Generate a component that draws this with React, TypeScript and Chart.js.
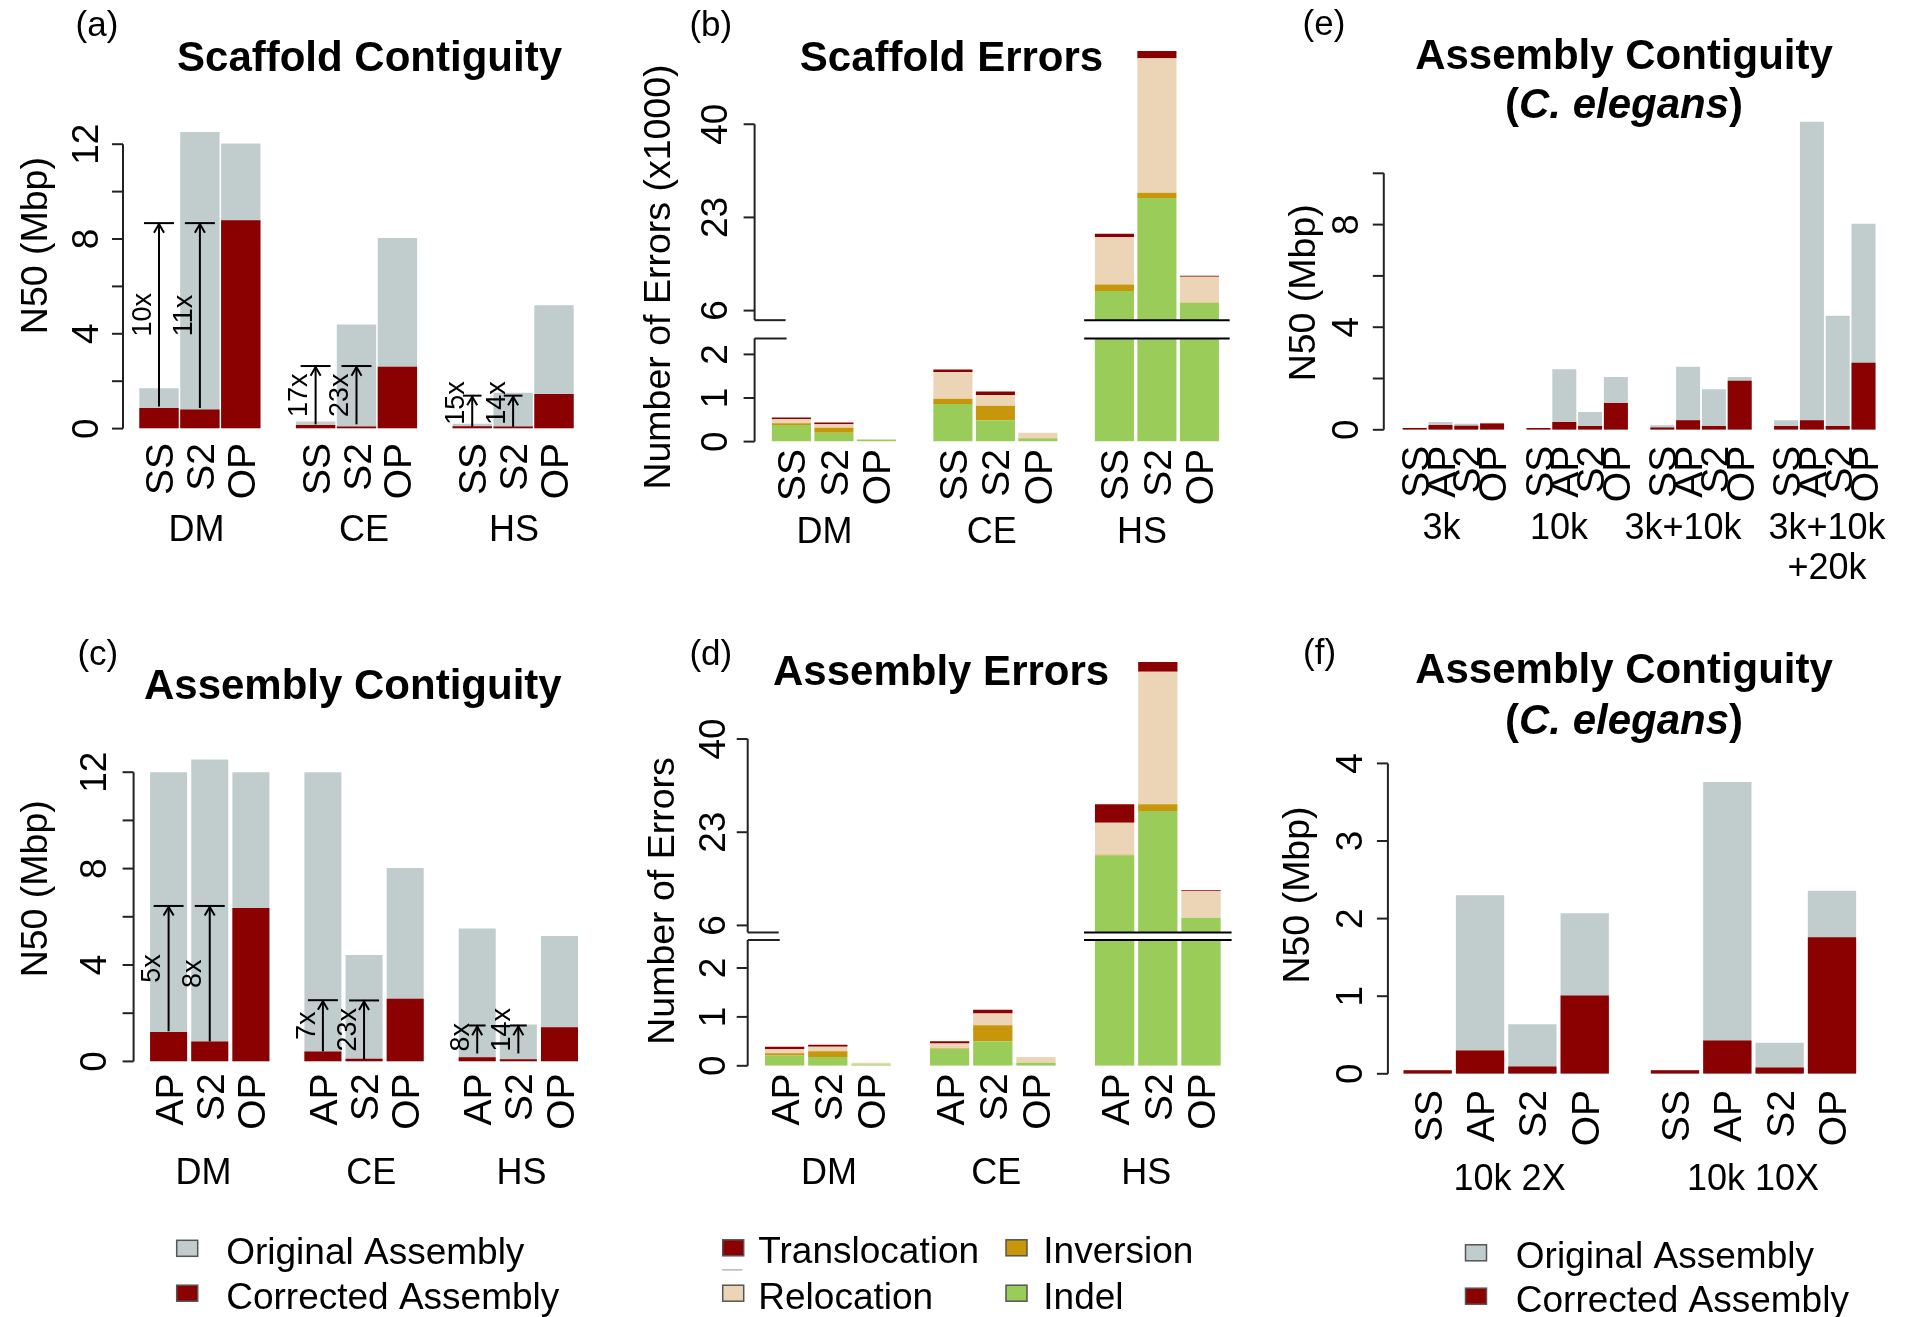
import { useEffect, useRef } from "react";
import { Chart, registerables, LinearScale } from "chart.js";

Chart.register(...registerables);

const FONT = '"Liberation Sans", Arial, Helvetica, sans-serif';

// ---------- text sizes ----------
const TICK_SIZE = 37;
const CAT_SIZE = 39;
const GROUP_SIZE = 36;
const AXIS_TITLE_SIZE = 37.5;
const FOLD_SIZE = 27;
const LEGEND_SIZE = 37;

// ---------- colours ----------
const GRAY = "#C1CDCD";
const DARKRED = "#8B0000";
const INDEL_C = "#9ACC5A";
const INVERSION_C = "#C8960A";
const RELOCATION_C = "#ECD5B7";
const TRANSLOCATION_C = "#8B0000";

// ---------- categories ----------
const SPECIES = ["DM", "CE", "HS"];
const SCAFFOLD_TOOLS = ["SS", "S2", "OP"];
const ASSEMBLY_TOOLS = ["AP", "S2", "OP"];
const ELEGANS_TOOLS = ["SS", "AP", "S2", "OP"];
const E_LIBRARIES = ["3k", "10k", "3k+10k", "3k+10k\n+20k"];
const F_COVERAGES = ["10k 2X", "10k 10X"];

const SERIES_ORIGINAL = "Original Assembly";
const SERIES_CORRECTED = "Corrected Assembly";
const ERR_INDEL = "Indel";
const ERR_INVERSION = "Inversion";
const ERR_RELOCATION = "Relocation";
const ERR_TRANSLOCATION = "Translocation";

// ---------- (a) Scaffold contiguity, N50 Mbp ----------
const A_ORIGINAL = [1.7, 12.51, 12.03, 0.3, 4.39, 8.04, 0.2, 1.51, 5.2];
const A_CORRECTED = [0.87, 0.81, 8.79, 0.15, 0.09, 2.61, 0.1, 0.09, 1.46];
const A_FOLD_BAR = [0, 1, 3, 4, 6, 7];
const A_FOLD_FROM = [0.93, 0.87, 0.18, 0.18, 0.08, 0.08];
const A_FOLD_TO = [8.67, 8.67, 2.64, 2.64, 1.39, 1.39];
const A_FOLD_LABEL = ["10x", "11x", "17x", "23x", "15x", "14x"];
const A_Y_TICKS = [0, 2, 4, 6, 8, 10, 12];
const A_Y_LABELS = [0, 4, 8, 12];

// ---------- (b) Scaffold errors (x1000) ----------
const B_INDEL = [0.38, 0.205, 0.045, 0.86, 0.49, 0.074, 9.58, 26.52, 7.37];
const B_INVERSION = [0.04, 0.115, 0, 0.123, 0.33, 0, 1.18, 0.98, 0.05];
const B_RELOCATION = [0.09, 0.08, 0.012, 0.615, 0.246, 0.13, 8.6, 24.56, 4.77];
const B_TRANSLOCATION = [0.04, 0.04, 0, 0.057, 0.082, 0, 0.65, 1.3, 0.15];
const B_Y_TICKS = [0, 1, 2, 6, 23, 40];

// ---------- (c) Assembly contiguity ----------
const C_ORIGINAL = [12.0, 12.53, 12.0, 12.0, 4.41, 8.02, 5.51, 1.53, 5.2];
const C_CORRECTED = [1.22, 0.83, 6.36, 0.41, 0.11, 2.6, 0.17, 0.09, 1.42];
const C_FOLD_BAR = [0, 1, 3, 4, 6, 7];
const C_FOLD_FROM = [1.25, 0.83, 0.42, 0.09, 0.33, 0.33];
const C_FOLD_TO = [6.45, 6.45, 2.54, 2.53, 1.49, 1.49];
const C_FOLD_LABEL = ["5x", "8x", "7x", "23x", "8x", "14x"];

// ---------- (d) Assembly errors ----------
const D_INDEL = [0.21, 0.18, 0.027, 0.345, 0.5, 0.064, 18.74, 26.86, 7.38];
const D_INVERSION = [0.045, 0.118, 0, 0.01, 0.327, 0, 0.15, 1.22, 0];
const D_RELOCATION = [0.09, 0.09, 0.036, 0.1, 0.245, 0.118, 5.86, 24.19, 4.87];
const D_TRANSLOCATION = [0.045, 0.045, 0, 0.045, 0.073, 0, 3.33, 1.78, 0.16];
const D_Y_TICKS = [0, 1, 2, 6, 23, 40];

// ---------- (e) C. elegans libraries ----------
const E_ORIGINAL = [0.08, 0.3, 0.24, 0.27, 0.07, 2.36, 0.69, 2.06, 0.18, 2.46, 1.58, 2.06, 0.37, 12.01, 4.45, 8.03];
const E_CORRECTED = [0.07, 0.19, 0.16, 0.25, 0.07, 0.3, 0.15, 1.04, 0.09, 0.37, 0.15, 1.91, 0.15, 0.37, 0.15, 2.61];
const E_Y_TICKS = [0, 2, 4, 6, 8, 10];
const E_Y_LABELS = [0, 4, 8];

// ---------- (f) C. elegans coverage ----------
const F_ORIGINAL = [0.05, 2.3, 0.64, 2.07, 0.05, 3.76, 0.4, 2.36];
const F_CORRECTED = [0.047, 0.3, 0.094, 1.01, 0.047, 0.43, 0.082, 1.76];
const F_Y_TICKS = [0, 1, 2, 3, 4];

// ---------- broken-axis scales ----------
type Brk = { lowTop: number; upV: number; anchorV: number; anchorD: number; slope: number };
const B_BRK: Brk = { lowTop: 2.367, upV: 4.25, anchorV: 6, anchorD: 3.005, slope: 0.1257 };
const D_BRK: Brk = { lowTop: 2.573, upV: 4.71, anchorV: 6, anchorD: 2.871, slope: 0.1121 };

function makeBrokenScale(id: string, b: Brk) {
  const upD = b.anchorD + (b.upV - b.anchorV) * b.slope;
  const fwd = (v: number) =>
    v <= b.lowTop
      ? v
      : v >= b.upV
      ? b.anchorD + (v - b.anchorV) * b.slope
      : b.lowTop + ((v - b.lowTop) * (upD - b.lowTop)) / (b.upV - b.lowTop);
  const inv = (d: number) =>
    d <= b.lowTop
      ? d
      : d >= upD
      ? b.anchorV + (d - b.anchorD) / b.slope
      : b.lowTop + ((d - b.lowTop) * (b.upV - b.lowTop)) / (upD - b.lowTop);
  class S extends (LinearScale as any) {
    static id = id;
    static defaults = (LinearScale as any).defaults;
    getPixelForValue(v: number) {
      return super.getPixelForValue(fwd(v));
    }
    getValueForPixel(p: number) {
      return inv(super.getValueForPixel(p));
    }
  }
  Chart.register(S as any);
}
makeBrokenScale("brokenB", B_BRK);
makeBrokenScale("brokenD", D_BRK);

// ---------- helpers ----------
function label(
  ctx: CanvasRenderingContext2D,
  s: string,
  x: number,
  y: number,
  size: number,
  align: CanvasTextAlign = "center",
  rot = false,
  style = "normal"
) {
  ctx.save();
  ctx.font = `${style} ${size}px ${FONT}`;
  ctx.fillStyle = "#000";
  ctx.textAlign = align;
  ctx.textBaseline = "alphabetic";
  ctx.translate(x, y);
  if (rot) ctx.rotate(-Math.PI / 2);
  ctx.fillText(s, 0, 0.36 * size);
  ctx.restore();
}

function seg(ctx: CanvasRenderingContext2D, x1: number, y1: number, x2: number, y2: number) {
  ctx.beginPath();
  ctx.moveTo(x1, y1);
  ctx.lineTo(x2, y2);
  ctx.stroke();
}

function drawFold(ctx: CanvasRenderingContext2D, x: number, yFrom: number, yTo: number, text: string) {
  const len = yFrom - yTo;
  const cap = Math.min(15, 0.3 * len);
  ctx.save();
  ctx.strokeStyle = "#000";
  ctx.lineWidth = 2;
  seg(ctx, x, yFrom, x, yTo);
  seg(ctx, x - cap, yTo, x + cap, yTo);
  const hl = 10;
  const ang = Math.PI / 6;
  ctx.beginPath();
  ctx.moveTo(x - hl * Math.sin(ang), yTo + 1 + hl * Math.cos(ang));
  ctx.lineTo(x, yTo + 1);
  ctx.lineTo(x + hl * Math.sin(ang), yTo + 1 + hl * Math.cos(ang));
  ctx.stroke();
  ctx.font = `${FOLD_SIZE}px ${FONT}`;
  const half = ctx.measureText(text).width / 2;
  const yc = Math.min((yFrom + yTo) / 2, yFrom - half - 2);
  ctx.restore();
  label(ctx, text, x - 18, yc, FOLD_SIZE, "center", true);
}

type TitleSeg = [string, string];
type LegendItem = { color: string; text: string; sx: number; tx: number; y: number };

type Panel = {
  id: string;
  ox: number;
  oy: number;
  w: number;
  h: number;
  letter: string;
  letterX: number;
  letterY: number;
  title: TitleSeg[][];
  titleX: number;
  titleY: number[];
  groups: string[];
  tools: string[];
  gp: number;
  firstPx: number;
  lastPx: number;
  barPct: number;
  y0: number;
  ppu: number;
  ymax: number;
  yType: string;
  stacked: boolean;
  brk?: Brk;
  axisX: number;
  ticks: number[];
  tickLabels: number[];
  tickLabelX: number;
  yTitle: string;
  yTitleX: number;
  yTitleY: number;
  catTop: number;
  groupLabelX: number[];
  groupLabelY: number;
  series: { label: string; color: string; values: number[]; order?: number }[];
  folds?: { bar: number[]; from: number[]; to: number[]; text: string[] };
  legend?: LegendItem[];
  legendLine?: number[];
};

function positions(p: Panel) {
  const out: number[] = [];
  for (let g = 0; g < p.groups.length; g++) for (let i = 0; i < p.tools.length; i++) out.push(g * p.gp + i);
  return out;
}

function makeDecor(p: Panel) {
  return {
    id: "decor_" + p.id,
    afterDatasetsDraw(chart: any) {
      const ctx: CanvasRenderingContext2D = chart.ctx;
      const xs = chart.scales.x;
      const ys = chart.scales.y;
      const X = (v: number) => xs.getPixelForValue(v) + p.ox;
      const Y = (v: number) => ys.getPixelForValue(v) + p.oy;
      const pos = positions(p);
      const pitch = X(1) - X(0);
      ctx.save();
      ctx.translate(-p.ox, -p.oy);

      // broken band over the tall group
      if (p.brk) {
        const lt = Y(p.brk.lowTop);
        const ub = Y(p.brk.upV);
        const n = p.tools.length;
        const first = pos[pos.length - n];
        const last = pos[pos.length - 1];
        const gx0 = X(first) - pitch / 2 - 9;
        const gx1 = X(last) + pitch / 2 + 9;
        ctx.fillStyle = "#fff";
        ctx.fillRect(gx0, ub, gx1 - gx0, lt - ub);
        ctx.strokeStyle = "#000";
        ctx.lineWidth = 2;
        seg(ctx, gx0, ub, gx1, ub);
        seg(ctx, gx0, lt, gx1, lt);
      }

      // y axis
      ctx.strokeStyle = "#222";
      ctx.lineWidth = 2;
      if (p.brk) {
        const lt = Y(p.brk.lowTop);
        const ub = Y(p.brk.upV);
        seg(ctx, p.axisX, Y(0), p.axisX, lt);
        seg(ctx, p.axisX, lt, p.axisX + 32, lt);
        seg(ctx, p.axisX, ub, p.axisX, Y(p.ticks[p.ticks.length - 1]));
        seg(ctx, p.axisX, ub, p.axisX + 31, ub);
      } else {
        seg(ctx, p.axisX, Y(p.ticks[0]), p.axisX, Y(p.ticks[p.ticks.length - 1]));
      }
      for (const t of p.ticks) seg(ctx, p.axisX - 11, Y(t), p.axisX, Y(t));
      for (const t of p.tickLabels) label(ctx, String(t), p.tickLabelX, Y(t), TICK_SIZE, "center", true);
      label(ctx, p.yTitle, p.yTitleX, p.yTitleY, AXIS_TITLE_SIZE, "center", true);

      // category labels
      pos.forEach((v, k) => {
        label(ctx, p.tools[k % p.tools.length], X(v), p.catTop, CAT_SIZE, "right", true);
      });
      p.groups.forEach((g, k) => {
        g.split("\n").forEach((line, j) => label(ctx, line, p.groupLabelX[k], p.groupLabelY + j * 40, GROUP_SIZE));
      });

      // fold-change annotations
      if (p.folds) {
        const f = p.folds;
        f.bar.forEach((b, k) => drawFold(ctx, X(pos[b]), Y(f.from[k]), Y(f.to[k]), f.text[k]));
      }

      // panel letter
      label(ctx, p.letter, p.letterX, p.letterY, 35);

      // title
      p.title.forEach((line, li) => {
        let total = 0;
        const widths = line.map(([s, st]) => {
          ctx.font = `${st} 42px ${FONT}`;
          const w = ctx.measureText(s).width;
          total += w;
          return w;
        });
        let x = p.titleX - total / 2;
        line.forEach(([s, st], k) => {
          label(ctx, s, x, p.titleY[li], 42, "left", false, st);
          x += widths[k];
        });
      });

      // legend
      if (p.legend) {
        for (const it of p.legend) {
          ctx.fillStyle = it.color;
          ctx.fillRect(it.sx, it.y - 8, 21, 16);
          ctx.strokeStyle = "#555";
          ctx.lineWidth = 1.5;
          ctx.strokeRect(it.sx, it.y - 8, 21, 16);
          label(ctx, it.text, it.tx, it.y + 2, LEGEND_SIZE, "left");
        }
        if (p.legendLine) {
          ctx.strokeStyle = "#9E8E8E";
          ctx.lineWidth = 1;
          const [a, b, c] = p.legendLine;
          seg(ctx, a, c, b, c);
        }
      }
      ctx.restore();
    },
  };
}

function buildConfig(p: Panel) {
  const pos = positions(p);
  const xmax = pos[pos.length - 1] + 0.5;
  const pitchPx = (p.lastPx - p.firstPx) / pos[pos.length - 1];
  const left = p.firstPx - 0.5 * pitchPx - p.ox;
  const right = p.lastPx + 0.5 * pitchPx - p.ox;
  const bottom = p.y0 - p.oy;
  const top = p.y0 - p.ymax * p.ppu - p.oy;
  const datasets = p.series.map((s) => ({
    label: s.label,
    data: s.values.map((v, k) => ({ x: pos[k], y: v })),
    backgroundColor: s.color,
    borderWidth: 0,
    grouped: false,
    barPercentage: p.barPct,
    categoryPercentage: 1,
    order: s.order ?? 0,
  }));
  return {
    type: "bar",
    data: { datasets },
    options: {
      responsive: false,
      animation: false,
      events: [],
      layout: { padding: { left, top, right: p.w - right, bottom: p.h - bottom } },
      plugins: { legend: { display: false }, tooltip: { enabled: false }, title: { display: false } },
      scales: {
        x: {
          type: "linear",
          display: false,
          min: -0.5,
          max: xmax,
          offset: false,
          stacked: p.stacked,
          ticks: { display: false },
          afterBuildTicks: (s: any) => {
            s.ticks = [];
          },
        },
        y: { type: p.yType, display: false, min: 0, max: p.ymax, stacked: p.stacked },
      },
    },
    plugins: [makeDecor(p)],
  } as any;
}

const overlay = (orig: number[], corr: number[]) => [
  { label: SERIES_ORIGINAL, color: GRAY, values: orig, order: 2 },
  { label: SERIES_CORRECTED, color: DARKRED, values: corr, order: 1 },
];
const errors = (indel: number[], inv: number[], reloc: number[], trans: number[]) => [
  { label: ERR_INDEL, color: INDEL_C, values: indel },
  { label: ERR_INVERSION, color: INVERSION_C, values: inv },
  { label: ERR_RELOCATION, color: RELOCATION_C, values: reloc },
  { label: ERR_TRANSLOCATION, color: TRANSLOCATION_C, values: trans },
];

const PANELS: Panel[] = [
  {
    id: "a", ox: 0, oy: 0, w: 620, h: 600,
    letter: "(a)", letterX: 97, letterY: 23.4,
    title: [[["Scaffold Contiguity", "bold"]]], titleX: 369.5, titleY: [55.5],
    groups: SPECIES, tools: SCAFFOLD_TOOLS, gp: 3.83, firstPx: 159, lastPx: 554, barPct: 0.963,
    y0: 428.6, ppu: 23.7, ymax: 13, yType: "linear", stacked: false,
    axisX: 123, ticks: A_Y_TICKS, tickLabels: A_Y_LABELS, tickLabelX: 85,
    yTitle: "N50 (Mbp)", yTitleX: 33.6, yTitleY: 245.6,
    catTop: 443, groupLabelX: [196.5, 364, 514], groupLabelY: 528.5,
    series: overlay(A_ORIGINAL, A_CORRECTED),
    folds: { bar: A_FOLD_BAR, from: A_FOLD_FROM, to: A_FOLD_TO, text: A_FOLD_LABEL },
  },
  {
    id: "b", ox: 620, oy: 0, w: 640, h: 600,
    letter: "(b)", letterX: 710.8, letterY: 23.4,
    title: [[["Scaffold Errors", "bold"]]], titleX: 951.5, titleY: [56.2],
    groups: SPECIES, tools: SCAFFOLD_TOOLS, gp: 3.8, firstPx: 791.4, lastPx: 1199.4, barPct: 0.92,
    y0: 441.6, ppu: 43.6, ymax: 9.3, yType: "brokenB", stacked: true, brk: B_BRK,
    axisX: 754.6, ticks: B_Y_TICKS, tickLabels: B_Y_TICKS, tickLabelX: 714,
    yTitle: "Number of Errors (x1000)", yTitleX: 656.7, yTitleY: 277,
    catTop: 449, groupLabelX: [824.6, 991.7, 1142], groupLabelY: 530,
    series: errors(B_INDEL, B_INVERSION, B_RELOCATION, B_TRANSLOCATION),
  },
  {
    id: "e", ox: 1260, oy: 0, w: 647, h: 600,
    letter: "(e)", letterX: 1324, letterY: 22.4,
    title: [[["Assembly Contiguity", "bold"]], [["(", "bold"], ["C. elegans", "italic bold"], [")", "bold"]]],
    titleX: 1624, titleY: [54.1, 102.4],
    groups: E_LIBRARIES, tools: ELEGANS_TOOLS, gp: 4.8, firstPx: 1414.7, lastPx: 1863.5, barPct: 0.93,
    y0: 429.8, ppu: 25.65, ymax: 12.5, yType: "linear", stacked: false,
    axisX: 1383.8, ticks: E_Y_TICKS, tickLabels: E_Y_LABELS, tickLabelX: 1344.6,
    yTitle: "N50 (Mbp)", yTitleX: 1301.3, yTitleY: 292.8,
    catTop: 445.8, groupLabelX: [1441.5, 1559, 1683, 1827], groupLabelY: 526,
    series: overlay(E_ORIGINAL, E_CORRECTED),
  },
  {
    id: "c", ox: 0, oy: 600, w: 620, h: 717,
    letter: "(c)", letterX: 97.8, letterY: 651.9,
    title: [[["Assembly Contiguity", "bold"]]], titleX: 352.8, titleY: [684],
    groups: SPECIES, tools: ASSEMBLY_TOOLS, gp: 3.75, firstPx: 168.6, lastPx: 559.5, barPct: 0.9,
    y0: 1061.4, ppu: 24.1, ymax: 13, yType: "linear", stacked: false,
    axisX: 133.6, ticks: A_Y_TICKS, tickLabels: A_Y_LABELS, tickLabelX: 92.9,
    yTitle: "N50 (Mbp)", yTitleX: 33.6, yTitleY: 888.8,
    catTop: 1073.4, groupLabelX: [203.6, 371.3, 521.5], groupLabelY: 1171,
    series: overlay(C_ORIGINAL, C_CORRECTED),
    folds: { bar: C_FOLD_BAR, from: C_FOLD_FROM, to: C_FOLD_TO, text: C_FOLD_LABEL },
    legend: [
      { color: GRAY, text: SERIES_ORIGINAL, sx: 176.7, tx: 226.2, y: 1248.3 },
      { color: DARKRED, text: SERIES_CORRECTED, sx: 176.7, tx: 226.2, y: 1293.2 },
    ],
  },
  {
    id: "d", ox: 620, oy: 600, w: 640, h: 717,
    letter: "(d)", letterX: 710.8, letterY: 651.9,
    title: [[["Assembly Errors", "bold"]]], titleX: 941.1, titleY: [670],
    groups: SPECIES, tools: ASSEMBLY_TOOLS, gp: 3.82, firstPx: 784.6, lastPx: 1201, barPct: 0.91,
    y0: 1065.8, ppu: 48.9, ymax: 8.6, yType: "brokenD", stacked: true, brk: D_BRK,
    axisX: 747.7, ticks: D_Y_TICKS, tickLabels: D_Y_TICKS, tickLabelX: 711.8,
    yTitle: "Number of Errors", yTitleX: 660.8, yTitleY: 901,
    catTop: 1073.4, groupLabelX: [829.1, 996.2, 1146.3], groupLabelY: 1171,
    series: errors(D_INDEL, D_INVERSION, D_RELOCATION, D_TRANSLOCATION),
    legend: [
      { color: TRANSLOCATION_C, text: ERR_TRANSLOCATION, sx: 722.7, tx: 758.3, y: 1247.8 },
      { color: INVERSION_C, text: ERR_INVERSION, sx: 1006, tx: 1043.3, y: 1247.8 },
      { color: RELOCATION_C, text: ERR_RELOCATION, sx: 722.7, tx: 758.3, y: 1293.2 },
      { color: INDEL_C, text: ERR_INDEL, sx: 1006, tx: 1043.3, y: 1293.2 },
    ],
    legendLine: [722, 742.4, 1269.9],
  },
  {
    id: "f", ox: 1260, oy: 600, w: 647, h: 717,
    letter: "(f)", letterX: 1319.6, letterY: 651.4,
    title: [[["Assembly Contiguity", "bold"]], [["(", "bold"], ["C. elegans", "italic bold"], [")", "bold"]]],
    titleX: 1624, titleY: [667.5, 719],
    groups: F_COVERAGES, tools: ELEGANS_TOOLS, gp: 4.725, firstPx: 1427.7, lastPx: 1832, barPct: 0.923,
    y0: 1073.8, ppu: 77.6, ymax: 4.3, yType: "linear", stacked: false,
    axisX: 1387.9, ticks: F_Y_TICKS, tickLabels: F_Y_TICKS, tickLabelX: 1348.7,
    yTitle: "N50 (Mbp)", yTitleX: 1295, yTitleY: 895,
    catTop: 1090, groupLabelX: [1509.6, 1753], groupLabelY: 1177,
    series: overlay(F_ORIGINAL, F_CORRECTED),
    legend: [
      { color: GRAY, text: SERIES_ORIGINAL, sx: 1465.5, tx: 1515.8, y: 1252.8 },
      { color: DARKRED, text: SERIES_CORRECTED, sx: 1465.5, tx: 1515.8, y: 1296.2 },
    ],
  },
];

function PanelChart({ p }: { p: Panel }) {
  const ref = useRef<HTMLCanvasElement>(null);
  useEffect(() => {
    const chart = new Chart(ref.current as HTMLCanvasElement, buildConfig(p));
    return () => chart.destroy();
  }, [p]);
  return (
    <canvas
      ref={ref}
      width={p.w}
      height={p.h}
      style={{ position: "absolute", left: p.ox, top: p.oy, width: p.w, height: p.h }}
    />
  );
}

export default function App() {
  return (
    <div
      style={{
        position: "absolute",
        left: 0,
        top: 0,
        width: 1907,
        height: 1317,
        background: "#fff",
        overflow: "hidden",
      }}
    >
      {PANELS.map((p) => (
        <PanelChart key={p.id} p={p} />
      ))}
    </div>
  );
}
